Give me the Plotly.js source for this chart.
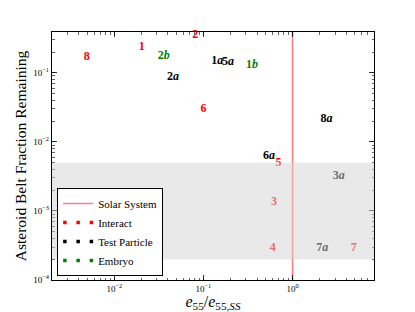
<!DOCTYPE html>
<html>
<head>
<meta charset="utf-8">
<script src="https://cdn.plot.ly/plotly-3.0.1.min.js"></script>
<style>html,body{margin:0;padding:0;background:#fff;}#chart{width:415px;height:312px;}</style>
</head>
<body>
<div id="chart"></div>
<script>
// Interact runs (red)
const interactLabels = ["8", "1", "2", "6", "5", "3", "4", "7"];
const interactX = [0.0049, 0.0203, 0.0807, 0.100, 0.695, 0.621, 0.600, 4.86];
const interactY = [0.170, 0.238, 0.350, 0.0295, 0.0049, 0.00136, 0.000288, 0.000288];

// Test Particle runs (black)
const testLabels = ["2a", "1a", "5a", "8a", "6a", "3a", "7a"];
const testX = [0.0457, 0.143, 0.189, 2.41, 0.545, 3.29, 2.15];
const testY = [0.0857, 0.149, 0.143, 0.0216, 0.0063, 0.00324, 0.000288];

// Embryo runs (green)
const embryoLabels = ["2b", "1b"];
const embryoX = [0.0358, 0.351];
const embryoY = [0.176, 0.129];

// Solar System reference value and band
const solarX = [1, 1];
const solarY = [1e-5, 10];
const bandY = [2e-4, 5e-3];

const xRange = [0.002, 8.2];
const yRange = [1e-4, 0.39];
const xTickVals = [0.01, 0.1, 1];
const yTickVals = [1e-4, 1e-3, 1e-2, 1e-1];

const SERIF = "Liberation Serif";

function fmt(l) {
  const m = l.match(/^(\d+)([a-z]?)$/);
  return "<b>" + m[1] + (m[2] ? "<i>" + m[2] + "</i>" : "") + "</b>";
}

function textTrace(name, xs, ys, labels, color) {
  return {
    type: "scatter", mode: "text", name: name, showlegend: false,
    x: xs, y: ys, text: labels.map(fmt),
    textposition: "middle center",
    textfont: {family: SERIF, size: 12, color: color},
    cliponaxis: false, hoverinfo: "skip"
  };
}

function legendTrace(name, color) {
  return {
    type: "scatter", mode: "lines", name: name,
    x: [null], y: [null],
    line: {color: color, width: 3.5, dash: "3.5px,9.75px"}
  };
}

const data = [
  {
    type: "scatter", mode: "lines", name: "Solar System",
    x: solarX, y: solarY,
    line: {color: "rgba(255,0,0,0.5)", width: 1.6},
    hoverinfo: "skip"
  },
  legendTrace("Interact", "#ff0000"),
  legendTrace("Test Particle", "#000000"),
  legendTrace("Embryo", "#008000"),
  textTrace("Interact", interactX, interactY, interactLabels, "#ff0000"),
  textTrace("Test Particle", testX, testY, testLabels, "#000000"),
  textTrace("Embryo", embryoX, embryoY, embryoLabels, "#008000")
];

const axisCommon = {
  type: "log",
  showgrid: false, zeroline: false,
  showline: true, linecolor: "#000", linewidth: 1.2,
  mirror: "allticks",
  ticks: "inside", ticklen: 5, tickwidth: 0.8, tickcolor: "#000",
  exponentformat: "power",
  tickmode: "array",
  tickfont: {family: SERIF, size: 9, color: "#000"},
  minor: {ticks: "inside", ticklen: 2.5, tickwidth: 0.6, tickcolor: "#000", dtick: "D1", showgrid: false}
};

const layout = {
  width: 415, height: 312,
  margin: {l: 52, r: 41, t: 32, b: 32},
  paper_bgcolor: "#fff", plot_bgcolor: "#fff",
  font: {family: SERIF, color: "#000"},
  showlegend: true,
  xaxis: Object.assign({}, axisCommon, {
    range: xRange.map(Math.log10),
    tickvals: xTickVals,
    ticktext: ["10<sup>\u22122</sup>", "10<sup>\u22121</sup>", "10<sup>0</sup>"],
    title: {text: "<i>e</i><sub>55</sub>/<i>e</i><sub>55,<i>SS</i></sub>", font: {family: SERIF, size: 16, color: "#000"}, standoff: 3}
  }),
  yaxis: Object.assign({}, axisCommon, {
    range: yRange.map(Math.log10),
    tickvals: yTickVals,
    ticktext: ["10<sup>\u22124</sup>", "10<sup>\u22123</sup>", "10<sup>\u22122</sup>", "10<sup>\u22121</sup>"],
    title: {text: "Asteroid Belt Fraction Remaining", font: {family: SERIF, size: 15.5, color: "#000"}, standoff: 2}
  }),
  legend: {
    x: 0.016, y: 0.016, xanchor: "left", yanchor: "bottom",
    bgcolor: "#fff", bordercolor: "#000", borderwidth: 1,
    font: {family: SERIF, size: 11, color: "#000"},
    tracegroupgap: 0, itemwidth: 30
  },
  shapes: [{
    type: "rect", layer: "above",
    xref: "paper", x0: 0, x1: 1,
    yref: "y", y0: bandY[0], y1: bandY[1],
    fillcolor: "rgb(211,211,211)", opacity: 0.5,
    line: {width: 0}
  }]
};

Plotly.newPlot("chart", data, layout, {staticPlot: true, displayModeBar: false});
</script>
</body>
</html>
